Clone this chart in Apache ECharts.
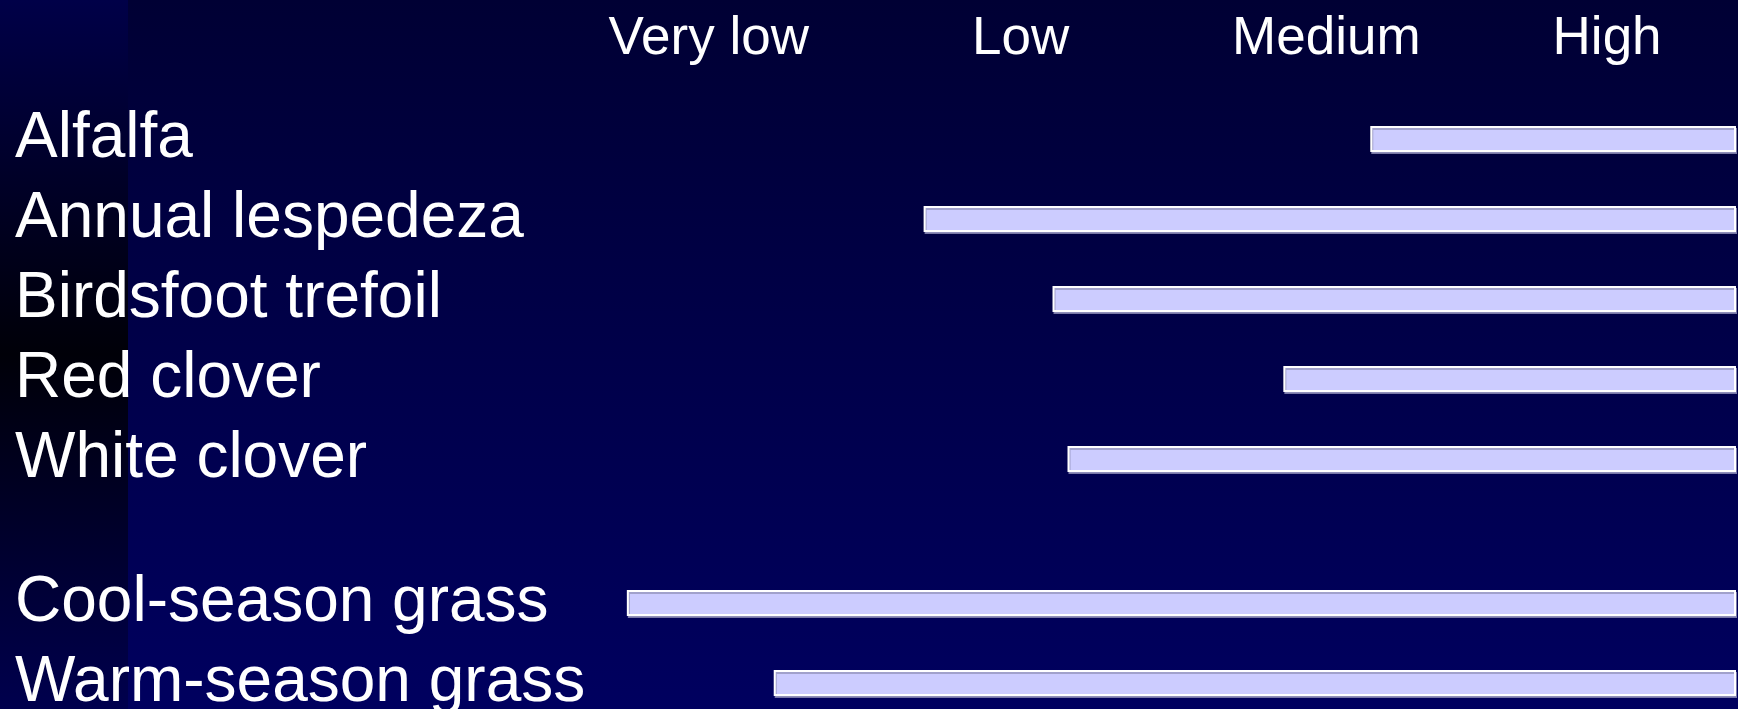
<!DOCTYPE html>
<html>
<head>
<meta charset="utf-8">
<script src="https://cdn.jsdelivr.net/npm/echarts@6/dist/echarts.min.js"></script>
<style>
  html, body { margin: 0; padding: 0; background: #000040; }
  #chart { width: 1738px; height: 709px; }
</style>
</head>
<body>
<div id="chart"></div>
<script>
// Tolerance levels shown across the top
const levels = ['Very low', 'Low', 'Medium', 'High'];

// Legumes: lowest level each crop tolerates (1 = Very low ... 4 = High)
const legumes = ['Alfalfa', 'Annual lespedeza', 'Birdsfoot trefoil', 'Red clover', 'White clover'];
const legumeStart = [3.18, 1.69, 2.12, 2.89, 2.17];

// Grasses
const grasses = ['Cool-season grass', 'Warm-season grass'];
const grassStart = [0.70, 1.19];

// Every range runs up to the top of the scale
const scaleTop = 4.4;

const FONT = '"Liberation Sans", Arial, sans-serif';

function renderRange(params, api) {
  const cat = api.value(0);
  const a = api.coord([api.value(1), cat]);
  const b = api.coord([api.value(2), cat]);
  const h = 24;
  return {
    type: 'rect',
    shape: { x: a[0] + 1, y: a[1] - h / 2, width: b[0] - a[0] - 2, height: h },
    style: {
      fill: '#ccccff',
      stroke: '#ffffff',
      lineWidth: 2,
      shadowColor: 'rgba(150,150,190,0.8)',
      shadowOffsetX: 1,
      shadowOffsetY: 2,
      shadowBlur: 0
    }
  };
}

const chart = echarts.init(document.getElementById('chart'), null, { renderer: 'canvas' });

const valueAxisBase = {
  type: 'value',
  min: 0,
  max: scaleTop,
  interval: 1,
  axisLine: { show: false },
  axisTick: { show: false },
  splitLine: { show: false }
};

const catAxisLabel = {
  color: '#ffffff',
  fontFamily: FONT,
  fontSize: 64,
  align: 'left',
  margin: 402,
  interval: 0,
  hideOverlap: false
};

// Header text styles; padding nudges each heading over its column
const headStyle = { color: '#ffffff', fontFamily: FONT, fontSize: 53 };
const headRich = {
  h1: Object.assign({ padding: [0, 16, 0, 0] }, headStyle),
  h2: Object.assign({ padding: [0, 0, 0, 8] }, headStyle),
  h3: Object.assign({ padding: [0, 0, 0, 20] }, headStyle),
  h4: Object.assign({ padding: [0, 18, 0, 0] }, headStyle)
};

chart.setOption({
  animation: false,
  backgroundColor: {
    type: 'linear', x: 0, y: 0, x2: 0, y2: 1,
    colorStops: [
      { offset: 0, color: '#000034' },
      { offset: 1, color: '#00005f' }
    ]
  },
  graphic: [{
    type: 'rect',
    z: -10,
    silent: true,
    shape: { x: 0, y: 0, width: 128, height: 709 },
    style: {
      fill: {
        type: 'linear', x: 0, y: 0, x2: 0, y2: 1,
        colorStops: [
          { offset: 0, color: '#000048' },
          { offset: 0.5, color: '#000008' },
          { offset: 1, color: '#00004e' }
        ]
      }
    }
  }],
  grid: [
    { left: 417, top: 99, width: 1319, height: 400, outerBoundsMode: 'none' },
    { left: 417, top: 563, width: 1319, height: 160, outerBoundsMode: 'none' }
  ],
  xAxis: [
    Object.assign({}, valueAxisBase, {
      gridIndex: 0,
      position: 'top',
      axisLabel: {
        color: '#ffffff',
        fontFamily: FONT,
        fontSize: 53,
        margin: 33,
        rich: headRich,
        formatter: v => (Number.isInteger(v) && levels[v - 1]) ? '{h' + v + '|' + levels[v - 1] + '}' : ''
      }
    }),
    Object.assign({}, valueAxisBase, { gridIndex: 1, axisLabel: { show: false } })
  ],
  yAxis: [
    {
      type: 'category', gridIndex: 0, inverse: true, data: legumes,
      axisLine: { show: false }, axisTick: { show: false },
      axisLabel: catAxisLabel
    },
    {
      type: 'category', gridIndex: 1, inverse: true, data: grasses,
      axisLine: { show: false }, axisTick: { show: false },
      axisLabel: catAxisLabel
    }
  ],
  series: [
    {
      type: 'custom', xAxisIndex: 0, yAxisIndex: 0,
      renderItem: renderRange,
      encode: { x: [1, 2], y: 0 },
      data: legumes.map((c, i) => [i, legumeStart[i], scaleTop])
    },
    {
      type: 'custom', xAxisIndex: 1, yAxisIndex: 1,
      renderItem: renderRange,
      encode: { x: [1, 2], y: 0 },
      data: grasses.map((c, i) => [i, grassStart[i], scaleTop])
    }
  ]
});
</script>
</body>
</html>
